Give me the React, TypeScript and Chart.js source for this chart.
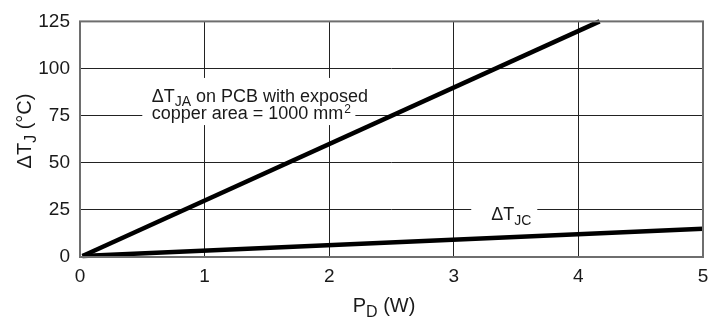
import React, { useEffect, useRef } from "react";
import { Chart, registerables } from "chart.js";

Chart.register(...registerables);

const xTicks = [0, 1, 2, 3, 4, 5];
const yTicks = [0, 25, 50, 75, 100, 125];
const jaX = [0.02, 4.17];
const jaY = [0.5, 125];
const jcX = [0.02, 5];
const jcY = [0.5, 15];

const FONT = "'Liberation Sans', Arial, sans-serif";

function drawSub(ctx: CanvasRenderingContext2D, parts: [string, boolean][], x: number, y: number, size: number, align: "left" | "center", subRatio = 0.78) {
  const big = `${size}px ${FONT}`;
  const small = `${Math.round(size * subRatio)}px ${FONT}`;
  let total = 0;
  for (const [t, sub] of parts) {
    ctx.font = sub ? small : big;
    total += ctx.measureText(t).width;
  }
  let cx = align === "center" ? x - total / 2 : x;
  ctx.textBaseline = "alphabetic";
  ctx.textAlign = "left";
  for (const [t, sub] of parts) {
    ctx.font = sub ? small : big;
    ctx.fillText(t, cx, sub ? y + size * 0.25 : y);
    cx += ctx.measureText(t).width;
  }
  return total;
}

const labelsPlugin = {
  id: "labelsPlugin",
  beforeDatasetsDraw(chart: any) {
    const ctx = chart.ctx as CanvasRenderingContext2D;
    const xs = chart.scales.x;
    const ys = chart.scales.y;
    ctx.save();
    // JA label box
    const bx1 = xs.getPixelForValue(0.5);
    const bx2 = xs.getPixelForValue(2.21);
    const by1 = ys.getPixelForValue(95);
    const by2 = ys.getPixelForValue(70);
    ctx.fillStyle = "#fff";
    ctx.fillRect(bx1, by1, bx2 - bx1, by2 - by1);
    ctx.fillStyle = "#1a1a1a";
    const tx = xs.getPixelForValue(0.575);
    drawSub(ctx, [["\u0394T", false], ["JA", true], [" on PCB with exposed", false]], tx, ys.getPixelForValue(82.5), 18, "left", 0.75);
    const w = drawSub(ctx, [["copper area = 1000 mm", false]], tx, ys.getPixelForValue(73.2), 18, "left");
    ctx.font = `12px ${FONT}`;
    ctx.fillText("2", tx + w + 1, ys.getPixelForValue(76.5));
    // JC label box
    const cx1 = xs.getPixelForValue(3.14);
    const cx2 = xs.getPixelForValue(3.67);
    const cy1 = ys.getPixelForValue(31);
    const cy2 = ys.getPixelForValue(19);
    ctx.fillStyle = "#fff";
    ctx.fillRect(cx1, cy1, cx2 - cx1, cy2 - cy1);
    ctx.fillStyle = "#1a1a1a";
    drawSub(ctx, [["\u0394T", false], ["JC", true]], xs.getPixelForValue(3.3), ys.getPixelForValue(19.5), 18, "left", 0.75);
    ctx.restore();
  },
  afterDraw(chart: any) {
    const ctx = chart.ctx as CanvasRenderingContext2D;
    const area = chart.chartArea;
    ctx.save();
    ctx.fillStyle = "#1a1a1a";
    // x title
    drawSub(ctx, [["P", false], ["D", true], [" (W)", false]], 384, 312, 20, "center", 0.8);
    // y title
    ctx.translate(31, 131);
    ctx.rotate(-Math.PI / 2);
    drawSub(ctx, [["\u0394T", false], ["J", true], [" (\u00B0C)", false]], 0, 0, 20, "center", 0.8);
    ctx.restore();
    // border
    ctx.save();
    ctx.strokeStyle = "#6e6e6e";
    ctx.lineWidth = 2;
    ctx.strokeRect(area.left, area.top, area.right - area.left, area.bottom - area.top);
    ctx.restore();
  },
};

export default function App() {
  const ref = useRef<HTMLCanvasElement>(null);
  useEffect(() => {
    const canvas = ref.current!;
    const chart = new Chart(canvas, {
      type: "scatter",
      data: {
        datasets: [
          {
            data: jaX.map((x, i) => ({ x, y: jaY[i] })),
            showLine: true,
            borderColor: "#000",
            borderWidth: 4.5,
            pointRadius: 0,
            clip: false as any,
          },
          {
            data: jcX.map((x, i) => ({ x, y: jcY[i] })),
            showLine: true,
            borderColor: "#000",
            borderWidth: 4.5,
            pointRadius: 0,
            clip: false as any,
          },
        ],
      },
      options: {
        animation: false,
        responsive: false,
        events: [],
        layout: { padding: { top: 15, right: 18, left: 0, bottom: 0 } },
        plugins: { legend: { display: false }, tooltip: { enabled: false } },
        scales: {
          x: {
            type: "linear",
            min: 0,
            max: 5,
            afterBuildTicks: (s: any) => {
              s.ticks = xTicks.map((v) => ({ value: v }));
            },
            ticks: { color: "#1a1a1a", font: { family: FONT, size: 19 }, padding: 8 },
            grid: { color: "#222", lineWidth: 1, drawTicks: false },
            border: { display: false },
            afterFit: (s: any) => {
              s.height = 63;
            },
          },
          y: {
            type: "linear",
            min: 0,
            max: 125,
            afterBuildTicks: (s: any) => {
              s.ticks = yTicks.map((v) => ({ value: v }));
            },
            ticks: { color: "#1a1a1a", font: { family: FONT, size: 19 }, padding: 10 },
            grid: { color: "#222", lineWidth: 1, drawTicks: false },
            border: { display: false },
            afterFit: (s: any) => {
              s.width = 80;
            },
          },
        },
      },
      plugins: [labelsPlugin],
    });
    return () => chart.destroy();
  }, []);
  return (
    <div style={{ position: "fixed", left: 0, top: 0, width: 721, height: 320, background: "#fff" }}>
      <canvas ref={ref} width={721} height={320} />
    </div>
  );
}
